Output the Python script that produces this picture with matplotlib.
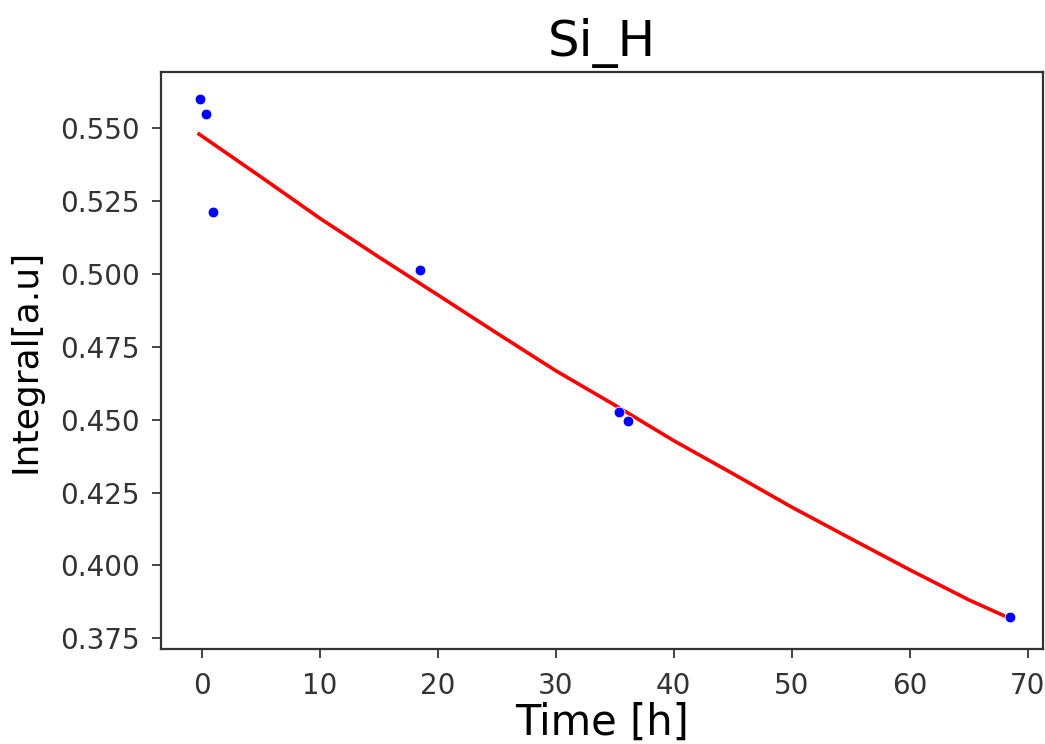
import matplotlib
matplotlib.use("Agg")
import matplotlib.pyplot as plt

# measured points
time_h = [-0.2, 0.3, 0.95, 18.5, 35.4, 36.1, 68.5]
integral = [0.5602, 0.5549, 0.5211, 0.5015, 0.4527, 0.4497, 0.3822]

# fit curve
fit_t = [-0.25, 5.0, 10.0, 15.0, 20.0, 25.0, 30.0, 35.0, 40.0, 45.0, 50.0, 55.0, 60.0, 65.0, 68.5]
fit_y = [0.5480, 0.5333, 0.5191, 0.5058, 0.4928, 0.4797, 0.4668, 0.4550, 0.4428, 0.4315,
         0.4200, 0.4092, 0.3985, 0.3882, 0.3818]

fig = plt.figure(figsize=(10.45, 7.44), dpi=100)
ax = fig.add_axes([0.154, 0.1273, 0.844, 0.7763])

ax.plot(fit_t, fit_y, color='red', lw=2.6, zorder=2)
ax.scatter(time_h, integral, s=60, color='blue', edgecolor='white', linewidth=0.6, zorder=3)

ax.set_xlim(-3.48, 71.3)
ax.set_ylim(0.3712, 0.5694)
ax.set_xticks(range(0, 71, 10))
ax.set_yticks([0.375, 0.400, 0.425, 0.450, 0.475, 0.500, 0.525, 0.550])
ax.set_yticklabels(['%.3f' % v for v in ax.get_yticks()])

ax.tick_params(axis='both', length=6.5, width=1.4, color='#444444',
               labelsize=20, labelcolor='#333333')
ax.tick_params(axis='x', pad=10)
ax.tick_params(axis='y', pad=9)
for sp in ax.spines.values():
    sp.set_linewidth(1.6)
    sp.set_color('#333333')

ax.set_title("Si_H", fontsize=36, pad=11)
ax.set_xlabel("Time [h]", fontsize=30, labelpad=1)
ax.set_ylabel("Integral[a.u]", fontsize=26, labelpad=12)

fig.savefig("out.png", dpi=100)
